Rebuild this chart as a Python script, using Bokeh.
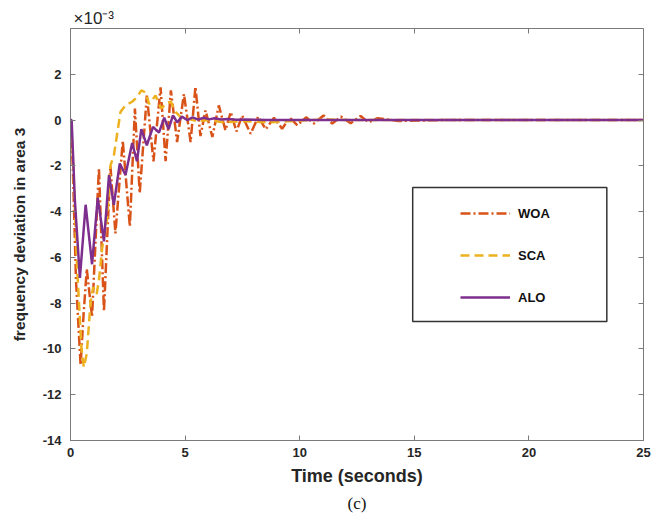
from bokeh.plotting import figure
from bokeh.models import Range1d, FixedTicker, LinearAxis, Legend, LegendItem, BoxAnnotation, Title
from bokeh.embed import file_html
from bokeh.resources import INLINE

# ---------------- data (frequency deviation in units of 1e-3) ----------------
time_woa = [0, 0.1, 0.24, 0.44, 0.57, 0.71, 0.94, 1.24, 1.46, 1.74,
            1.96, 2.28, 2.59, 2.81, 3.02, 3.33, 3.62, 3.93, 4.15, 4.38,
            4.65, 4.95, 5.24, 5.45, 5.67, 5.89, 6.19, 6.47, 6.76, 6.99,
            7.24, 7.49, 7.86, 8.19, 8.52, 8.88, 9.23, 9.57, 9.9, 10.28,
            10.62, 11.04, 11.42, 11.8, 12.22, 12.66, 13.0, 13.4, 14.3, 16.2, 25]
woa = [0, -2.0, -7.0, -10.7, -8.5, -6.5, -8.6, -2.1, -8.35, -2.0,
       -4.95, -0.9, -4.65, 0.5, -3.2, 1.07, -1.8, 1.43, -1.8, 1.3,
       -0.96, 1.14, -0.96, 1.45, -0.7, 0.42, -0.74, 0.64, -0.45, 0.35,
       -0.5, 0.2, -0.6, 0.15, -0.4, 0.1, -0.38, 0.1, -0.23, 0.12,
       -0.15, 0.2, -0.15, 0.15, -0.14, 0.18, -0.1, 0.08, -0.04, 0.0, 0.0]

time_sca = [0, 0.1, 0.29, 0.48, 0.58, 0.71, 0.88, 0.99, 1.14, 1.24,
            1.38, 1.60, 1.74, 1.90, 2.18, 2.40, 2.69, 2.90, 3.09, 3.28,
            3.43, 3.71, 3.95, 4.19, 4.38, 4.59, 4.81, 5.14, 5.52, 6.0,
            6.66, 7.6, 8.6, 9.5, 10.5, 11.4, 12.4, 25]
sca = [0, -1.5, -6.5, -10.0, -10.8, -10.2, -7.9, -7.3, -7.6, -7.0,
       -5.6, -4.3, -2.0, -1.5, 0.35, 0.65, 0.8, 1.0, 1.3, 1.2,
       0.7, 1.07, 0.5, 0.75, 0.8, 0.35, 0.13, 0.05, -0.05, 0.0,
       -0.1, -0.05, -0.1, -0.05, 0.0, 0.02, 0.0, 0.0]

time_alo = [0, 0.05, 0.19, 0.41, 0.66, 0.94, 1.19, 1.46, 1.68, 1.89,
            2.15, 2.40, 2.69, 2.90, 3.09, 3.33, 3.60, 3.86, 4.09, 4.28,
            4.47, 4.66, 4.86, 5.09, 5.33, 5.57, 5.81, 6.05, 6.28, 6.57,
            6.85, 7.24, 7.62, 8.6, 25]
alo = [0, 0, -3.5, -6.9, -3.7, -6.3, -3.4, -5.3, -2.4, -3.7,
       -1.9, -2.4, -1.0, -1.8, -0.4, -1.1, -0.3, -0.55, 0.1, -0.4,
       0.2, -0.1, 0.15, 0.0, 0.12, 0.02, 0.1, 0.03, 0.08, 0.02,
       0.05, 0.01, 0.02, 0.0, 0.0]

x_ticks = [0, 5, 10, 15, 20, 25]
y_ticks = [-14, -12, -10, -8, -6, -4, -2, 0, 2]
y_tick_labels = ["-14", "-12", "-10", "-8", "-6", "-4", "-2", "0", "2"]
series_names = ["WOA", "SCA", "ALO"]

# ---------------- figure ----------------
FONT = "Liberation Sans"
AX = "#7a7a7a"
TXT = "#262626"

p = figure(width=669, height=517, output_backend="svg", toolbar_location=None,
           x_range=Range1d(0, 25), y_range=Range1d(-14, 4),
           min_border_left=70, min_border_right=26, min_border_top=28, min_border_bottom=77)
p.grid.visible = False
p.background_fill_color = "white"
p.border_fill_color = "white"
p.outline_line_color = AX
p.outline_line_width = 1

r1 = p.line(time_woa, woa, line_color="#D95319", line_width=2.5, line_dash="10 3 2 3")
r2 = p.line(time_sca, sca, line_color="#EDB120", line_width=2.5, line_dash="9 5")
r3 = p.line(time_alo, alo, line_color="#7E2F8E", line_width=2.5)

for ax, ticks in ((p.xaxis[0], x_ticks), (p.yaxis[0], y_ticks)):
    ax.ticker = FixedTicker(ticks=ticks)
    ax.axis_line_color = AX
    ax.major_tick_line_color = AX
    ax.major_tick_in = 5
    ax.major_tick_out = 0
    ax.minor_tick_line_color = None
    ax.major_label_text_font = FONT
    ax.major_label_text_font_style = "bold"
    ax.major_label_text_font_size = "13px"
    ax.major_label_text_color = TXT
    ax.axis_label_text_font = FONT
    ax.axis_label_text_font_style = "bold"
    ax.axis_label_text_color = TXT

p.yaxis.major_label_overrides = {t: s for t, s in zip(y_ticks, y_tick_labels)}

p.xaxis.axis_label = "Time (seconds)"
p.xaxis.axis_label_text_font_size = "18px"
p.xaxis.major_label_standoff = 7
p.xaxis.axis_label_standoff = 6
p.yaxis.axis_label = "frequency deviation in area 3"
p.yaxis.axis_label_text_font_size = "15.5px"
p.yaxis.major_label_standoff = 9
p.yaxis.axis_label_standoff = 12

top_ax = LinearAxis(ticker=FixedTicker(ticks=x_ticks), axis_line_color=None,
                    major_tick_line_color=AX, major_tick_in=5, major_tick_out=0,
                    minor_tick_line_color=None, major_label_text_font_size="0px",
                    major_label_standoff=0)
right_ax = LinearAxis(ticker=FixedTicker(ticks=y_ticks), axis_line_color=None,
                      major_tick_line_color=AX, major_tick_in=5, major_tick_out=0,
                      minor_tick_line_color=None, major_label_text_font_size="0px",
                      major_label_standoff=0)
p.add_layout(top_ax, "above")
p.add_layout(right_ax, "right")

# exponent (above the frame) and caption (below the x label)
p.add_layout(Title(text="\u00d710\u207b\u00b3", align="left", offset=3, standoff=1,
                   text_font=FONT, text_font_size="17px", text_font_style="normal",
                   text_color=TXT), "above")
p.add_layout(Title(text="(c)", align="center", standoff=6,
                   text_font="Liberation Serif", text_font_size="17px",
                   text_font_style="normal", text_color="#111111"), "below")

# legend frame
p.add_layout(BoxAnnotation(left=14.93, right=23.4, top=-2.95, bottom=-8.8,
                           fill_color="white", fill_alpha=1.0,
                           line_color="#333333", line_width=1.5, line_alpha=1.0))

legend = Legend(items=[LegendItem(label=series_names[0], renderers=[r1]),
                       LegendItem(label=series_names[1], renderers=[r2]),
                       LegendItem(label=series_names[2], renderers=[r3])],
                location=(390, 133), border_line_alpha=0, background_fill_alpha=0,
                glyph_width=50, glyph_height=20, label_height=20, spacing=22,
                padding=0, margin=0, label_standoff=8,
                label_text_font=FONT, label_text_font_style="bold",
                label_text_font_size="13px", label_text_color="#111111")
p.add_layout(legend)

open("out.html", "w").write(file_html(p, INLINE))
